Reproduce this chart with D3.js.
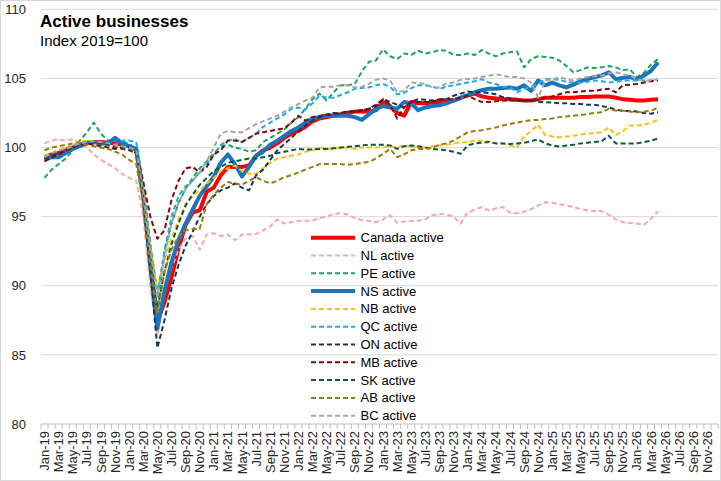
<!DOCTYPE html>
<html>
<head>
<meta charset="utf-8">
<script src="https://cdn.jsdelivr.net/npm/d3@7"></script>
<style>
  body { margin: 0; background: #fff; }
  text { font-family: "Liberation Sans", Arial, sans-serif; }
</style>
</head>
<body>
<div id="chart"></div>
<script>
// month categories Jan-19 .. Dec-26 (axis runs past the data)
const months = d3.utcMonths(new Date(Date.UTC(2019, 0, 1)), new Date(Date.UTC(2027, 0, 1)))
  .map(d3.utcFormat("%b-%y"));
const yTicks = [80, 85, 90, 95, 100, 105, 110];

// index values, Jan-19 .. Apr-26
const canada = [99.3, 99.5, 99.6, 99.8, 100.0, 100.2, 100.35, 100.4, 100.4, 100.35, 100.3, 100.2, 100.1, 99.8,
  96.5, 91.8, 87.4, 88.8, 90.6, 92.7, 94.4, 95.3, 95.45, 96.8, 97.1, 98.0, 98.6, 98.6, 98.6, 98.7,
  99.4, 99.8, 100.0, 100.3, 100.7, 101.0, 101.2, 101.5, 101.9, 102.1, 102.2, 102.3, 102.4, 102.5, 102.6, 102.6, 102.6, 102.7,
  103.3, 103.0, 102.5, 102.3, 103.3, 103.2, 103.2, 103.25, 103.3, 103.3, 103.4, 103.6,
  103.75, 103.9, 103.7, 103.6, 103.55, 103.5, 103.5, 103.45, 103.4, 103.4, 103.5, 103.6, 103.6, 103.6,
  103.6, 103.6, 103.65, 103.65, 103.7, 103.7, 103.7, 103.6, 103.5, 103.45, 103.4, 103.4, 103.45, 103.5];
const nl = [100.3, 100.5, 100.6, 100.5, 100.6, 100.3, 100.0, 99.5, 99.1, 98.8, 98.5, 98.1, 97.8, 97.6,
  95.0, 90.0, 86.4, 89.5, 91.3, 92.6, 93.4, 93.6, 92.6, 93.7, 93.8, 93.6, 93.7, 93.3, 93.7, 93.7,
  93.75, 94.0, 94.3, 94.8, 94.5, 94.6, 94.7, 94.7, 94.7, 94.9, 95.0, 95.2, 95.25, 95.15, 94.9, 94.75, 94.7, 94.6,
  94.8, 95.1, 94.55, 94.65, 94.7, 94.7, 94.8, 95.1, 95.2, 95.15, 95.0, 94.5,
  95.3, 95.5, 95.7, 95.45, 95.6, 95.7, 95.3, 95.25, 95.35, 95.55, 95.8, 96.05, 96.0, 95.9,
  95.8, 95.7, 95.55, 95.45, 95.4, 95.4, 95.15, 94.8, 94.6, 94.55, 94.5, 94.4, 94.85, 95.4];
const pe = [97.8, 98.4, 98.8, 99.2, 99.8, 100.5, 101.1, 101.8, 101.0, 100.5, 100.5, 100.4, 100.3, 99.8,
  97.3, 93.0, 88.2, 92.5, 94.5, 96.0, 97.0, 97.8, 98.5, 99.0, 99.6, 100.1, 100.2, 100.0, 99.9, 99.7,
  99.8, 100.4, 100.7, 101.0, 101.3, 101.8, 102.2, 102.8, 103.5, 103.9, 103.4, 104.0, 104.5, 104.5, 104.6, 105.5, 106.2, 106.3,
  107.1, 106.6, 106.4, 106.8, 106.7, 107.0, 106.8, 106.9, 107.05, 107.0, 106.7, 106.7,
  106.8, 106.7, 107.05, 106.8, 106.6, 106.8, 106.9, 106.95, 105.8, 106.4, 106.6, 106.55, 106.5, 106.3,
  105.9, 105.45, 105.6, 105.8, 105.75, 105.8, 105.9, 105.8, 105.6, 105.65, 105.1, 105.4, 106.0, 106.4];
const ns = [99.1, 99.3, 99.3, 99.6, 99.9, 100.1, 100.3, 100.4, 100.3, 100.3, 100.7, 100.3, 100.1, 99.9,
  96.5, 91.5, 86.9, 89.6, 91.7, 93.3, 94.5, 95.5, 96.5, 97.2, 97.9, 98.9, 99.5, 98.8, 97.9, 98.6,
  99.4, 99.7, 100.2, 100.5, 100.85, 101.2, 101.45, 101.8, 102.1, 102.2, 102.3, 102.3, 102.3, 102.3, 102.2, 102.0, 102.4, 102.8,
  103.0, 102.9, 102.8, 103.3, 103.2, 102.7, 102.9, 103.0, 103.05, 103.2, 103.4, 103.6,
  103.8, 104.0, 104.15, 104.25, 104.25, 104.3, 104.35, 104.25, 104.5, 104.1, 104.85, 104.5, 104.7, 104.5,
  104.35, 104.55, 104.8, 104.95, 105.1, 105.2, 105.45, 104.95, 105.05, 105.1, 104.95, 105.2, 105.55, 106.15];
const nb = [99.4, 99.6, 99.8, 100.0, 100.2, 100.4, 100.5, 100.4, 100.3, 100.2, 100.1, 100.0, 99.9, 99.6,
  96.8, 93.0, 89.8, 91.8, 93.4, 94.8, 95.9, 96.5, 96.9, 97.4, 97.8, 98.3, 98.5, 98.7, 98.3, 98.1,
  98.1, 98.5, 98.9, 99.2, 99.3, 99.4, 99.5, 99.7, 99.8, 100.0, 99.9, 99.9, 100.0, 100.0, 99.9, 100.0, 100.0, 100.0,
  100.0, 100.1, 100.0, 100.15, 100.1, 100.0, 100.0, 100.1, 100.15, 100.2, 100.3, 100.35,
  100.4, 100.5, 100.45, 100.45, 100.3, 100.3, 100.15, 100.0, 100.8, 101.2, 101.65, 100.9, 100.8, 100.75,
  100.8, 100.85, 100.95, 101.0, 101.05, 101.1, 101.45, 100.9, 101.2, 101.6, 101.6, 101.65, 101.8, 102.0];
const qc = [99.3, 99.5, 99.7, 99.9, 100.1, 100.3, 100.4, 100.4, 100.3, 100.3, 100.2, 100.5, 100.5, 100.4,
  97.5, 93.0, 89.4, 92.5, 95.0, 96.5, 97.2, 97.6, 98.2, 98.8, 99.5, 100.2, 100.5, 100.6, 100.4, 100.7,
  101.0, 101.5, 101.8, 102.1, 102.4, 102.8, 102.9, 102.75, 103.2, 103.75, 103.6, 103.6, 103.8, 104.0, 104.25, 104.3, 104.35, 104.5,
  104.6, 104.4, 103.85, 103.95, 104.3, 104.5, 104.5, 104.4, 104.25, 104.4, 104.5, 104.6,
  104.7, 104.8, 104.95, 104.7, 104.6, 104.4, 104.35, 104.0, 104.25, 104.4, 104.6, 104.95, 104.95, 104.9,
  104.75, 104.7, 104.7, 104.75, 104.85, 104.8, 104.7, 104.75, 104.85, 104.85, 104.85, 104.85, 104.85, 104.9];
const on = [99.2, 99.4, 99.6, 99.8, 100.0, 100.2, 100.3, 100.4, 100.3, 100.3, 100.2, 100.1, 100.0, 99.8,
  96.3, 91.0, 85.5, 87.5, 89.8, 91.5, 92.9, 93.9, 95.0, 95.9, 96.5, 96.9, 97.1, 97.4, 97.1, 96.9,
  98.0, 98.4, 99.1, 99.8, 100.25, 100.7, 101.2, 101.6, 101.95, 102.2, 102.4, 102.5, 102.5, 102.6, 102.6, 102.7, 102.8, 103.1,
  103.5, 103.3, 103.1, 102.9, 103.3, 103.5, 103.45, 103.4, 103.5, 103.5, 103.75, 103.9,
  104.05, 104.0, 104.0, 103.95, 103.85, 103.65, 103.55, 103.4, 103.4, 103.4, 103.3, 103.27, 103.25, 103.2,
  103.2, 103.15, 103.15, 103.1, 103.1, 103.0, 102.9, 102.75, 102.65, 102.65, 102.6, 102.5, 102.45, 102.55];
const mb = [99.0, 99.3, 99.5, 99.8, 100.0, 100.2, 100.3, 100.2, 100.1, 100.0, 99.9, 100.0, 100.0, 99.6,
  97.5, 95.0, 93.4, 94.0, 96.2, 97.6, 98.5, 98.6, 98.2, 98.6, 99.5, 99.8, 100.5, 100.5, 100.4, 100.7,
  101.0, 101.1, 101.2, 101.3, 101.4, 101.8, 102.3, 101.95, 102.2, 102.3, 102.35, 102.4, 102.5, 102.6, 102.6, 102.7, 102.8, 103.0,
  103.5, 103.1, 102.1, 102.9, 103.3, 103.3, 103.3, 103.3, 103.5, 103.5, 103.5, 103.6,
  103.75, 103.5, 103.3, 103.3, 103.35, 103.4, 103.4, 103.4, 103.4, 103.4, 103.45, 103.6, 103.7, 103.85,
  104.0, 104.0, 104.05, 104.1, 104.1, 104.2, 104.25, 104.0, 104.5, 104.55, 104.6, 104.7, 104.8, 104.85];
const sk = [99.2, 99.5, 99.7, 99.9, 100.1, 100.3, 100.4, 100.4, 100.3, 100.2, 100.0, 99.9, 99.8, 99.6,
  96.5, 92.0, 88.3, 91.0, 93.0, 94.5, 95.8, 96.6, 97.3, 97.8, 98.3, 98.6, 98.9, 99.0, 99.1, 99.2,
  99.2, 99.3, 99.4, 99.6, 99.7, 99.8, 99.9, 99.85, 99.85, 99.9, 99.9, 99.95, 100.0, 100.05, 100.1, 100.15, 100.2, 100.2,
  100.2, 100.15, 99.9, 100.1, 100.15, 100.1, 100.0, 99.9, 99.85, 99.8, 99.7, 99.55,
  100.15, 100.3, 100.35, 100.4, 100.3, 100.3, 100.25, 100.3, 100.35, 100.45, 100.6, 100.3, 100.15, 100.07,
  100.15, 100.2, 100.3, 100.35, 100.4, 100.45, 100.85, 100.3, 100.3, 100.3, 100.3, 100.4, 100.5, 100.65];
const ab = [99.8, 100.0, 100.1, 100.2, 100.3, 100.3, 100.2, 100.1, 100.0, 99.9, 99.7, 99.5, 99.1, 98.8,
  96.0, 91.5, 88.0, 91.0, 92.6, 93.6, 94.0, 94.1, 94.1, 95.9, 96.6, 97.1, 97.5, 97.4, 97.3, 97.6,
  97.85, 97.6, 97.4, 97.6, 97.85, 98.0, 98.2, 98.4, 98.6, 98.8, 98.8, 98.8, 98.8, 98.75, 98.8, 98.9, 98.95, 99.2,
  99.55, 99.9, 99.3, 99.5, 99.8, 99.9, 99.9, 100.0, 100.2, 100.3, 100.5, 100.8,
  101.1, 101.2, 101.25, 101.35, 101.45, 101.6, 101.7, 101.8, 101.9, 101.98, 102.0, 102.07, 102.1, 102.2,
  102.25, 102.3, 102.35, 102.43, 102.5, 102.55, 102.8, 102.67, 102.67, 102.6, 102.55, 102.6, 102.67, 102.87];
const bc = [99.3, 99.6, 99.8, 99.9, 100.1, 100.3, 100.4, 100.45, 100.4, 100.3, 100.2, 100.1, 100.0, 99.8,
  96.8, 92.5, 89.2, 92.0, 94.5, 96.0, 97.0, 97.6, 98.2, 99.0, 100.0, 101.0, 101.2, 101.1, 101.1, 101.4,
  101.7, 101.9, 102.1, 102.3, 102.6, 102.9, 103.15, 103.4, 103.6, 104.35, 104.4, 104.4, 104.5, 104.5, 104.35, 104.4, 104.6, 104.9,
  105.0, 104.85, 104.0, 104.1, 104.7, 104.65, 104.6, 104.35, 104.35, 104.65, 104.7, 104.9,
  104.95, 105.0, 105.1, 105.2, 105.3, 105.2, 105.1, 105.1, 105.0, 104.7, 103.6, 104.85, 104.9, 105.1,
  104.95, 104.85, 105.0, 105.1, 105.15, 105.2, 105.35, 105.45, 105.3, 105.2, 104.95, 104.85, 104.85, 104.95];

const series = [
  {name: "Canada active", values: canada, color: "#ff0000", width: 4, dash: null},
  {name: "NL active", values: nl, color: "#f4a9a8", width: 2, dash: "5,3"},
  {name: "PE active", values: pe, color: "#1fa55b", width: 2, dash: "5,3"},
  {name: "NS active", values: ns, color: "#1c75bc", width: 4, dash: null},
  {name: "NB active", values: nb, color: "#ffc000", width: 2, dash: "5,3"},
  {name: "QC active", values: qc, color: "#1cadea", width: 2, dash: "5,3"},
  {name: "ON active", values: on, color: "#17375e", width: 2, dash: "5,3"},
  {name: "MB active", values: mb, color: "#7f0a0a", width: 2, dash: "5,3"},
  {name: "SK active", values: sk, color: "#0b5a3a", width: 2, dash: "5,3"},
  {name: "AB active", values: ab, color: "#9c7c0c", width: 2, dash: "5,3"},
  {name: "BC active", values: bc, color: "#a6a6a6", width: 2, dash: "5,3"}
];

const W = 721, H = 481;
const svg = d3.select("#chart").append("svg")
  .attr("width", W).attr("height", H);

svg.append("rect")
  .attr("x", 0.5).attr("y", 0.5)
  .attr("width", W - 1).attr("height", H - 1)
  .attr("fill", "#fff").attr("stroke", "#d9d9d9");

const x = d3.scaleBand().domain(months).range([41, 718]);
const y = d3.scaleLinear().domain([80, 110]).range([424, 9.3]);
const bw = x.bandwidth();

// gridlines
svg.append("g")
  .selectAll("line")
  .data(yTicks.filter(t => t > 80))
  .join("line")
    .attr("x1", 41).attr("x2", 718)
    .attr("y1", d => y(d)).attr("y2", d => y(d))
    .attr("stroke", "#d9d9d9").attr("stroke-width", 1);

// y axis labels
const yAxis = svg.append("g")
  .attr("transform", "translate(33,0)")
  .call(d3.axisLeft(y).tickValues(yTicks).tickSize(0).tickPadding(7));
yAxis.select(".domain").remove();
yAxis.selectAll("text")
  .style("font-size", "13px")
  .attr("fill", "#262626");

// x axis line + month ticks between categories
svg.append("line")
  .attr("x1", 41).attr("x2", 718)
  .attr("y1", 424).attr("y2", 424)
  .attr("stroke", "#bfbfbf");
svg.append("g")
  .selectAll("line")
  .data(months.map(m => x(m)).concat([718]))
  .join("line")
    .attr("x1", d => d).attr("x2", d => d)
    .attr("y1", 424).attr("y2", 429)
    .attr("stroke", "#bfbfbf");

svg.append("g")
  .selectAll("text")
  .data(months.filter((m, i) => i % 2 === 0))
  .join("text")
    .attr("transform", d => `translate(${x(d) + bw / 2},431) rotate(-90)`)
    .attr("dy", "0.35em")
    .attr("text-anchor", "end")
    .style("font-size", "13px")
    .attr("fill", "#262626")
    .text(d => d);

// lines
const line = d3.line()
  .x((d, i) => x(months[i]) + bw / 2)
  .y(d => y(d));

svg.append("g")
  .selectAll("path")
  .data(series)
  .join("path")
    .attr("d", d => line(d.values))
    .attr("fill", "none")
    .attr("stroke", d => d.color)
    .attr("stroke-width", d => d.width)
    .attr("stroke-dasharray", d => d.dash)
    .attr("stroke-linejoin", "round");

// legend
const legend = svg.append("g")
  .selectAll("g")
  .data(series)
  .join("g")
    .attr("transform", (d, i) => `translate(311,${237.7 + i * 17.8})`);
legend.append("line")
  .attr("x1", 0).attr("x2", 44)
  .attr("stroke", d => d.color)
  .attr("stroke-width", d => d.width)
  .attr("stroke-dasharray", d => d.dash);
legend.append("text")
  .attr("x", 49.5)
  .attr("dy", "0.35em")
  .style("font-size", "13px")
  .attr("fill", "#000")
  .text(d => d.name);

// titles
svg.append("text")
  .attr("x", 40).attr("y", 27)
  .style("font-size", "17px")
  .style("font-weight", "bold")
  .text("Active businesses");
svg.append("text")
  .attr("x", 40).attr("y", 46)
  .style("font-size", "15px")
  .text("Index 2019=100");
</script>
</body>
</html>
